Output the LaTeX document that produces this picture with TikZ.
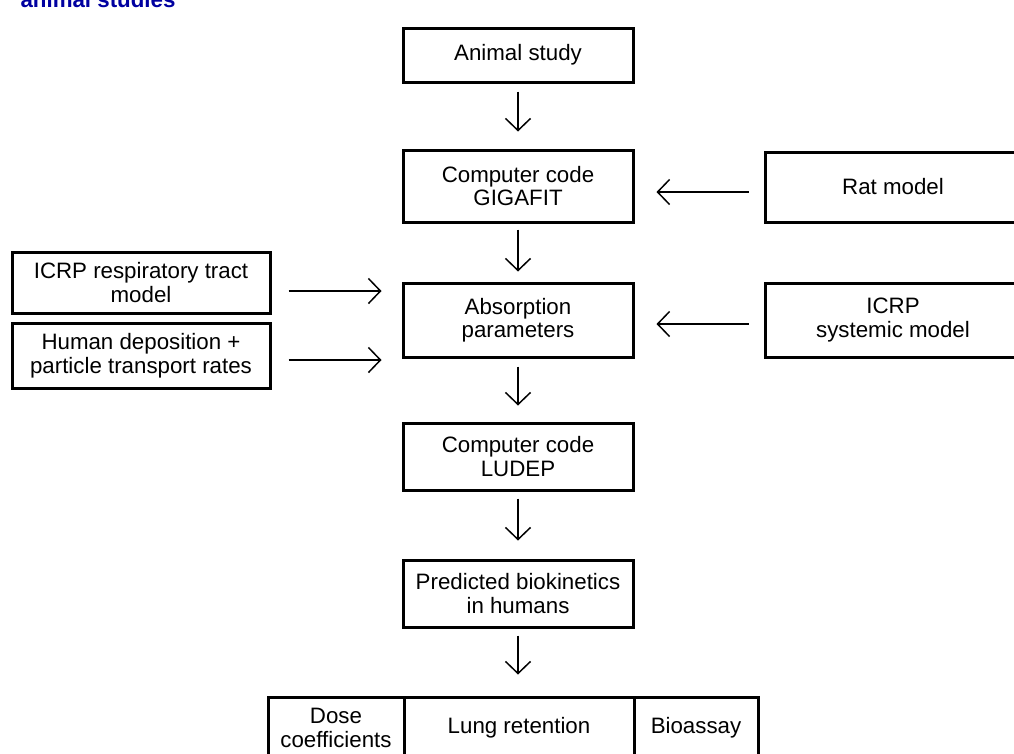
\documentclass[tikz,border=0pt]{standalone}
\usepackage{fontspec}
\setmainfont{Liberation Sans}
\usetikzlibrary{arrows.meta}

\begin{document}
\begin{tikzpicture}[x=1pt,y=-1pt,>={Straight Barb[length=12pt,width=25pt]},
                    box/.style={draw,line width=3pt,inner sep=0pt,align=center,
                                font=\fontsize{22.3}{23.5}\selectfont},
                    arr/.style={->,line width=1.5pt}]

  \useasboundingbox (0,0) rectangle (1014,753);
  \clip (0,0) rectangle (1014,753);

  \node[anchor=base west,text={rgb,255:red,0;green,0;blue,160},
        font=\fontsize{22.3}{23.5}\selectfont\bfseries] (title) at (17,7) {animal studies};

  \node[box,minimum width=230,minimum height=54] (animal)   at (518,55)    {Animal study};
  \node[box,minimum width=230,minimum height=72] (gigafit)  at (518,186)   {Computer code\\GIGAFIT};
  \node[box,minimum width=230,minimum height=74] (absorb)   at (518,320)   {Absorption\\parameters};
  \node[box,minimum width=230,minimum height=67] (ludep)    at (518,456.5) {Computer code\\LUDEP};
  \node[box,minimum width=230,minimum height=67] (predict)  at (518,593.5) {Predicted biokinetics\\in humans};

  \node[box,minimum width=256,minimum height=70] (rat)      at (893,187)   {Rat model};
  \node[box,minimum width=256,minimum height=74] (systemic) at (893,320)   {ICRP\\systemic model};

  \node[box,minimum width=258,minimum height=61] (resp)     at (141,282.5) {ICRP respiratory tract\\model};
  \node[box,minimum width=258,minimum height=65] (humandep) at (141,355.5) {Human deposition +\\particle transport rates};

  \node[box,minimum width=136,minimum height=62] (dose)     at (336,728)   {Dose\\coefficients};
  \node[box,minimum width=230,minimum height=62] (lung)     at (519,728)   {Lung retention};
  \node[box,minimum width=124,minimum height=62] (bio)      at (696,728)   {Bioassay};

  \path[arr] (animal)  edge[shorten <=8pt,shorten >=17pt] (gigafit)
             (gigafit) edge[shorten <=6pt,shorten >=10pt] (absorb)
             (absorb)  edge[shorten <=8pt,shorten >=16pt] (ludep)
             (ludep)   edge[shorten <=7pt,shorten >=18pt] (predict)
             (predict) edge[shorten <=7pt,shorten >=21pt] (predict |- lung.north);

  \draw[arr,shorten <=17pt,shorten >=20pt] ([yshift=-8.5pt]resp.east) -- ([yshift=-8.5pt]resp.east -| absorb.west);
  \draw[arr,shorten <=17pt,shorten >=20pt] ([yshift=-4.5pt]humandep.east) -- ([yshift=-4.5pt]humandep.east -| absorb.west);
  \draw[arr,shorten <=15pt,shorten >=22pt] ([yshift=-5pt]rat.west) -- ([yshift=-5pt]rat.west -| gigafit.east);
  \draw[arr,shorten <=15pt,shorten >=22pt] ([yshift=-4pt]systemic.west) -- ([yshift=-4pt]systemic.west -| absorb.east);
\end{tikzpicture}
\end{document}
